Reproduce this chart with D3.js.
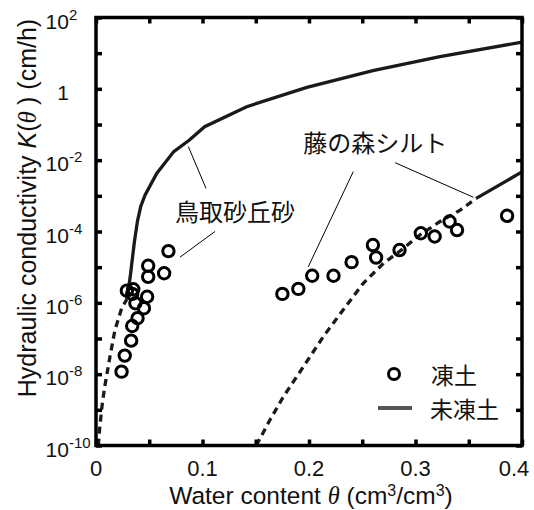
<!DOCTYPE html>
<html>
<head>
<meta charset="utf-8">
<script src="https://cdn.jsdelivr.net/npm/d3@7"></script>
<style>
body { margin: 0; background: #fff; }
text { font-family: Arial, "Liberation Sans", sans-serif; fill: #111; }
.jp { font-family: "Noto Sans CJK JP", sans-serif; }
</style>
</head>
<body>
<div id="chart"></div>
<script>
// frozen soil measurements, theta (cm3/cm3) and log10 K (cm/h)
let tottoriTheta = [0.024, 0.027, 0.033, 0.034, 0.039, 0.045, 0.037, 0.048, 0.034, 0.029, 0.035, 0.049, 0.064, 0.049, 0.068];
let tottoriLogK  = [-7.93, -7.48, -7.06, -6.65, -6.43, -6.15, -6.01, -5.83, -5.75, -5.66, -5.62, -5.27, -5.17, -4.96, -4.55];
let siltTheta = [0.175, 0.190, 0.203, 0.223, 0.240, 0.260, 0.263, 0.285, 0.305, 0.318, 0.332, 0.339, 0.386];
let siltLogK  = [-5.75, -5.61, -5.24, -5.24, -4.86, -4.38, -4.73, -4.52, -4.05, -4.14, -3.72, -3.96, -3.56];

// unfrozen curves (solid = measured range, dashed = extension)
let tottoriSolidTheta = [0.029, 0.032, 0.036, 0.039, 0.042, 0.046, 0.057, 0.073, 0.088, 0.102, 0.1415, 0.198, 0.26, 0.323, 0.4];
let tottoriSolidLogK  = [-5.9, -5.3, -4.3, -3.7, -3.3, -2.98, -2.37, -1.76, -1.43, -1.06, -0.50, 0.04, 0.51, 0.90, 1.31];
let tottoriDashTheta = [0.0022, 0.0035, 0.006, 0.0085, 0.0131, 0.0178, 0.0241, 0.029];
let tottoriDashLogK  = [-10, -9.5, -8.8, -8.3, -7.51, -6.76, -6.15, -5.9];
let siltDashTheta = [0.1505, 0.1634, 0.176, 0.1885, 0.201, 0.2134, 0.232, 0.251, 0.27, 0.2854, 0.304, 0.323, 0.342, 0.357];
let siltDashLogK  = [-10, -9.28, -8.63, -8.07, -7.51, -6.95, -6.2, -5.45, -4.89, -4.55, -4.1, -3.72, -3.40, -3.07];
let siltSolidTheta = [0.357, 0.4];
let siltSolidLogK  = [-3.07, -2.33];

// ticks
let xTicks = [0, 0.1, 0.2, 0.3, 0.4];
let xMinorTicks = [0.05, 0.15, 0.25, 0.35];
let yExponents = [2, 1, 0, -1, -2, -3, -4, -5, -6, -7, -8, -9, -10];
let yLabelExponents = [2, 0, -2, -4, -6, -8, -10];

let config = { 'svg': {}, 'plot': {} };
config.svg.width = 534;
config.svg.height = 510;
config.plot.left = 96;
config.plot.right = 522;
config.plot.top = 17.5;
config.plot.bottom = 445.5;

let svg = d3.select('#chart').append('svg')
  .attr('width', config.svg.width)
  .attr('height', config.svg.height);

let x = d3.scaleLinear().domain([0, 0.4]).range([config.plot.left, config.plot.right]);
let y = d3.scaleLog().domain([1e-10, 1e2]).range([config.plot.bottom, config.plot.top]);

function pts(thetas, logks) {
  return thetas.map((t, i) => [t, Math.pow(10, logks[i])]);
}
let line = d3.line().x(d => x(d[0])).y(d => y(d[1]));

// curves
let curves = svg.append('g').attr('fill', 'none').attr('stroke', '#1a1a1a').attr('stroke-width', 3.3);
curves.append('path').attr('d', line(pts(tottoriSolidTheta, tottoriSolidLogK)));
curves.append('path').attr('d', line(pts(siltSolidTheta, siltSolidLogK)));
curves.append('path').attr('d', line(pts(tottoriDashTheta, tottoriDashLogK))).attr('stroke-dasharray', '7,5');
curves.append('path').attr('d', line(pts(siltDashTheta, siltDashLogK))).attr('stroke-dasharray', '7,5');

// frozen points
let points = pts(tottoriTheta, tottoriLogK).concat(pts(siltTheta, siltLogK));
svg.append('g').selectAll('circle')
  .data(points)
  .enter().append('circle')
  .attr('cx', d => x(d[0]))
  .attr('cy', d => y(d[1]))
  .attr('r', 5.7)
  .attr('fill', 'none')
  .attr('stroke', '#000')
  .attr('stroke-width', 3);

// annotation leaders (theta, logK)
let leaders = [
  [[0.0867, -1.62], [0.1033, -2.79]],
  [[0.1117, -4.0], [0.0789, -4.72]],
  [[0.2416, -2.32], [0.1993, -4.99]],
  [[0.2808, -2.07], [0.3543, -3.04]]
];
svg.append('g').selectAll('line')
  .data(leaders)
  .enter().append('line')
  .attr('x1', d => x(d[0][0])).attr('y1', d => y(Math.pow(10, d[0][1])))
  .attr('x2', d => x(d[1][0])).attr('y2', d => y(Math.pow(10, d[1][1])))
  .attr('stroke', '#000').attr('stroke-width', 1);

svg.append('text').attr('class', 'jp')
  .attr('x', x(0.0742)).attr('y', y(Math.pow(10, -3.71)))
  .style('font-size', '24px').text('鳥取砂丘砂');
svg.append('text').attr('class', 'jp')
  .attr('x', x(0.1947)).attr('y', y(Math.pow(10, -1.77)))
  .style('font-size', '24px').text('藤の森シルト');

// legend
let legend = svg.append('g');
legend.append('circle').attr('cx', 394).attr('cy', 374).attr('r', 5.5)
  .attr('fill', 'none').attr('stroke', '#000').attr('stroke-width', 3);
legend.append('text').attr('class', 'jp').attr('x', 431).attr('y', 384)
  .style('font-size', '23px').text('凍土');
legend.append('line').attr('x1', 378).attr('x2', 412).attr('y1', 408).attr('y2', 408)
  .attr('stroke', '#555').attr('stroke-width', 4);
legend.append('text').attr('class', 'jp').attr('x', 430).attr('y', 418)
  .style('font-size', '23px').text('未凍土');

// axes: ticks on all four sides, pointing inward
function styleAxis(g) {
  g.select('.domain').remove();
  g.selectAll('.tick line').attr('stroke', '#000').attr('stroke-width', 3.5);
  g.selectAll('.tick text').remove();
}
svg.append('g').attr('transform', 'translate(0,' + config.plot.bottom + ')')
  .call(d3.axisBottom(x).tickValues(xTicks.concat(xMinorTicks)).tickSize(-6)).call(styleAxis);
svg.append('g').attr('transform', 'translate(0,' + config.plot.top + ')')
  .call(d3.axisTop(x).tickValues(xTicks.concat(xMinorTicks)).tickSize(-6)).call(styleAxis);
svg.append('g').attr('transform', 'translate(' + config.plot.left + ',0)')
  .call(d3.axisLeft(y).tickValues(yExponents.map(e => Math.pow(10, e))).tickSize(-6)).call(styleAxis);
svg.append('g').attr('transform', 'translate(' + config.plot.right + ',0)')
  .call(d3.axisRight(y).tickValues(yExponents.map(e => Math.pow(10, e))).tickSize(-6)).call(styleAxis);

svg.append('rect')
  .attr('x', config.plot.left).attr('y', config.plot.top)
  .attr('width', config.plot.right - config.plot.left)
  .attr('height', config.plot.bottom - config.plot.top)
  .attr('fill', 'none').attr('stroke', '#000').attr('stroke-width', 3.5);

// x tick labels
svg.append('g').selectAll('text')
  .data(xTicks)
  .enter().append('text')
  .attr('x', d => x(d) - (d === 0.4 ? 8 : 0))
  .attr('y', config.plot.bottom + 30)
  .attr('text-anchor', 'middle')
  .style('font-size', '22px')
  .text(d => d === 0 ? '0' : d.toFixed(1));

// y tick labels with superscript exponents
let yl = svg.append('g').selectAll('text')
  .data(yLabelExponents)
  .enter().append('text')
  .attr('x', 69)
  .attr('y', d => y(Math.pow(10, d)) + 11)
  .attr('text-anchor', d => d === 0 ? 'end' : 'start')
  .style('font-size', '21px');
yl.each(function(d) {
  let t = d3.select(this);
  if (d === 0) { t.text('1'); return; }
  t.attr('x', 69 - 23.4);
  t.append('tspan').text('10');
  t.append('tspan').attr('dy', -9).style('font-size', '15px').text(d);
});

// axis titles
let xt = svg.append('text')
  .attr('x', 311)
  .attr('y', 504)
  .attr('text-anchor', 'middle')
  .style('font-size', '24.5px');
xt.append('tspan').text('Water content ');
xt.append('tspan').style('font-style', 'italic').style('font-family', '"Liberation Serif", serif').text('θ');
xt.append('tspan').text(' (cm');
xt.append('tspan').attr('dy', -8).style('font-size', '16px').text('3');
xt.append('tspan').attr('dy', 8).text('/cm');
xt.append('tspan').attr('dy', -8).style('font-size', '16px').text('3');
xt.append('tspan').attr('dy', 8).text(')');

let yt = svg.append('text')
  .attr('transform', 'translate(36,208) rotate(-90)')
  .attr('text-anchor', 'middle')
  .style('font-size', '25px');
yt.append('tspan').text('Hydraulic conductivity ');
yt.append('tspan').style('font-style', 'italic').text('K');
yt.append('tspan').text('(');
yt.append('tspan').style('font-style', 'italic').style('font-family', '"Liberation Serif", serif').text('θ ');
yt.append('tspan').text(') (cm/h)');
</script>
</body>
</html>
